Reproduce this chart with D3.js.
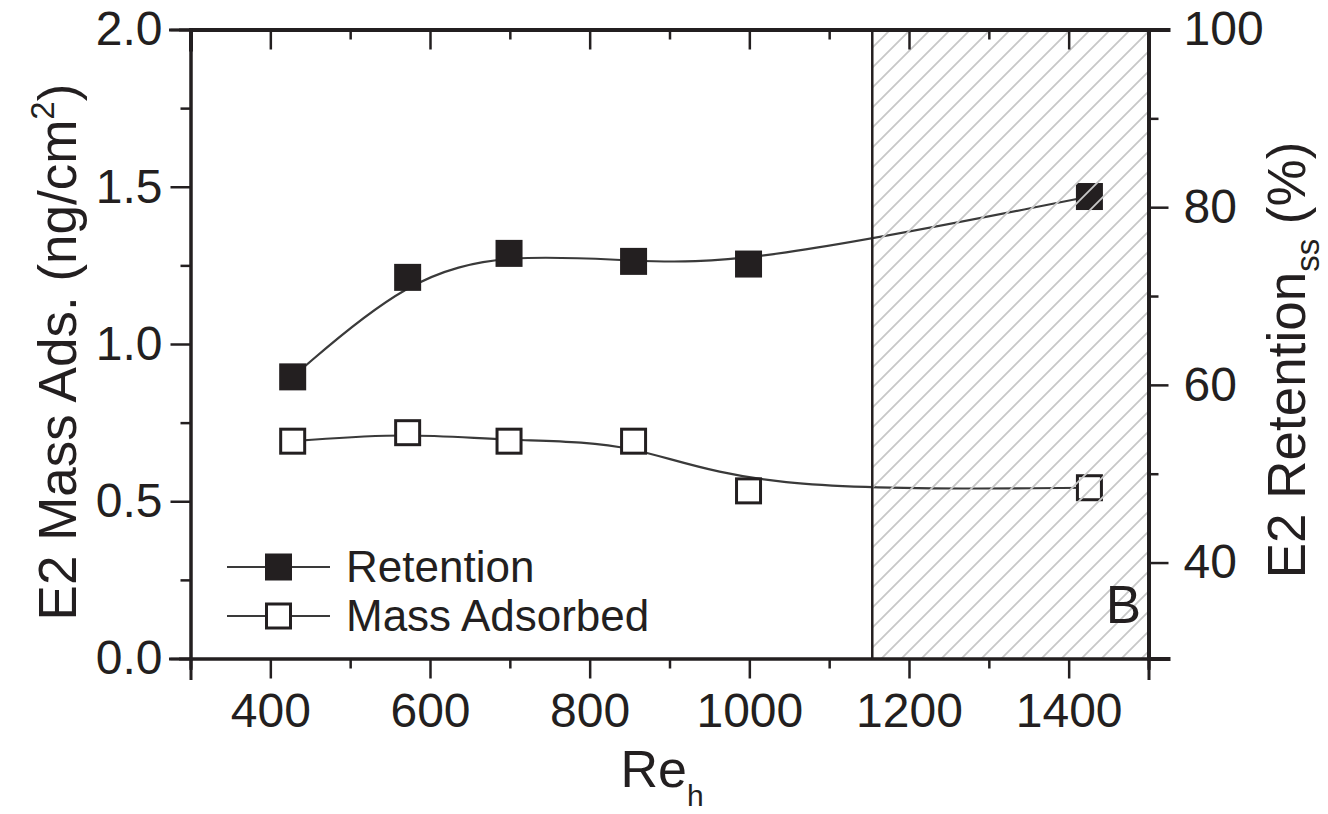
<!DOCTYPE html>
<html><head><meta charset="utf-8">
<script src="https://cdn.jsdelivr.net/npm/d3@7/dist/d3.min.js"></script>
<style>
html,body{margin:0;padding:0;background:#fff;}
svg{display:block;font-family:"Liberation Sans",Arial,Helvetica,sans-serif;}
.axis path,.axis line{stroke:#231f20;}
.axis text{fill:#231f20;font-size:48px;font-family:"Liberation Sans",Arial,sans-serif;}
</style></head>
<body>
<svg id="chart" width="1328" height="814"></svg>
<script>
// Data
const reh = [428, 572, 699, 855, 999, 1426];
const retention = [60.9, 72.1, 74.8, 73.9, 73.6, 81.2];      // right axis, %
const massAdsorbed = [0.691, 0.718, 0.691, 0.691, 0.533, 0.543]; // left axis, ng/cm2
const xMajorTicks = [400, 600, 800, 1000, 1200, 1400];
const xMinorTicks = [300, 500, 700, 900, 1100, 1300, 1500];
const yLeftMajor = [0, 0.5, 1.0, 1.5, 2.0];
const yLeftMinor = [0.25, 0.75, 1.25, 1.75];
const yRightMajor = [40, 60, 80, 100];
const yRightMinor = [50, 70, 90];
const hatchStart = 1154;
const legendLabels = ["Retention", "Mass Adsorbed"];

const svg = d3.select("#chart");
const L = 190.5, R = 1148.5, T = 29.5, B = 658.5;
const x = d3.scaleLinear().domain([300, 1500]).range([L, R]);
const yL = d3.scaleLinear().domain([0, 2]).range([B, T]);
const yR = d3.scaleLinear().domain([29.2, 100]).range([B, T]);
const ink = "#231f20";

// Curves
const lineR = d3.line().x((d,i)=>x(reh[i])).y(d=>yR(d)).curve(d3.curveBasis);
const lineM = d3.line().x((d,i)=>x(reh[i])).y(d=>yL(d)).curve(d3.curveBasis);
svg.append("path").attr("d", lineR(retention)).attr("fill","none").attr("stroke","#3a3a3a").attr("stroke-width",2.2);
svg.append("path").attr("d", lineM(massAdsorbed)).attr("fill","none").attr("stroke","#3a3a3a").attr("stroke-width",2.2);

const S = 27;
svg.selectAll(".mR").data(retention).enter().append("rect")
  .attr("x",(d,i)=>x(reh[i])-S/2).attr("y",d=>yR(d)-S/2)
  .attr("width",S).attr("height",S).attr("fill",ink);
svg.selectAll(".mM").data(massAdsorbed).enter().append("rect")
  .attr("x",(d,i)=>x(reh[i])-S/2+1.5).attr("y",d=>yL(d)-S/2+1.5)
  .attr("width",S-3).attr("height",S-3).attr("fill","#fff").attr("stroke",ink).attr("stroke-width",3);

// Hatch region
const defs = svg.append("defs");
const P = 20;
const pat = defs.append("pattern").attr("id","hatch").attr("patternUnits","userSpaceOnUse")
  .attr("width",P).attr("height",P);
pat.append("path").attr("d",`M-2,2 L2,-2 M0,${P} L${P},0 M${P-2},${P+2} L${P+2},${P-2}`)
  .attr("stroke","#c8c8c8").attr("stroke-width",1.8);
svg.append("rect").attr("x",x(hatchStart)).attr("y",T).attr("width",R-x(hatchStart)).attr("height",B-T)
  .attr("fill","url(#hatch)");
svg.append("line").attr("x1",x(hatchStart)).attr("x2",x(hatchStart)).attr("y1",T).attr("y2",B)
  .attr("stroke",ink).attr("stroke-width",2.5);

// Axes
function style(g, w){ g.select(".domain").attr("stroke-width", w); g.selectAll(".tick line").attr("stroke-width", 2.5); }
const gx = svg.append("g").attr("class","axis").attr("transform",`translate(0,${B})`)
  .call(d3.axisBottom(x).tickValues(xMajorTicks).tickSize(20).tickPadding(14).tickFormat(d3.format("d")));
style(gx,3);
const gx2 = svg.append("g").attr("class","axis").attr("transform",`translate(0,${B})`)
  .call(d3.axisBottom(x).tickValues(xMinorTicks).tickSize(10).tickFormat(""));
style(gx2,3);
const gt = svg.append("g").attr("class","axis").attr("transform",`translate(0,${T})`)
  .call(d3.axisTop(x).tickValues(xMajorTicks).tickSize(-20).tickFormat(""));
style(gt,4);
const gt2 = svg.append("g").attr("class","axis").attr("transform",`translate(0,${T})`)
  .call(d3.axisTop(x).tickValues(xMinorTicks).tickSize(-10).tickFormat(""));
style(gt2,4);
const gl = svg.append("g").attr("class","axis").attr("transform",`translate(${L},0)`)
  .call(d3.axisLeft(yL).tickValues(yLeftMajor).tickSize(20).tickPadding(8).tickFormat(d3.format(".1f")));
style(gl,3);
const gl2 = svg.append("g").attr("class","axis").attr("transform",`translate(${L},0)`)
  .call(d3.axisLeft(yL).tickValues(yLeftMinor).tickSize(10).tickFormat(""));
style(gl2,3);
const gr = svg.append("g").attr("class","axis").attr("transform",`translate(${R},0)`)
  .call(d3.axisRight(yR).tickValues(yRightMajor).tickSize(20).tickPadding(15).tickFormat(d3.format("d")));
style(gr,4);
const gr2 = svg.append("g").attr("class","axis").attr("transform",`translate(${R},0)`)
  .call(d3.axisRight(yR).tickValues(yRightMinor).tickSize(10).tickFormat(""));
style(gr2,4);
svg.selectAll(".axis .domain").attr("stroke-linecap","square");
svg.selectAll(".axis text").attr("font-size",48);

// Axis titles
const lt = svg.append("text").attr("transform","translate(76,352) rotate(-90)")
  .attr("text-anchor","middle").attr("font-size",53).attr("fill",ink);
lt.append("tspan").text("E2 Mass Ads. (ng/cm");
lt.append("tspan").attr("font-size",33).attr("dy",-22).text("2");
lt.append("tspan").attr("dy",22).text(")");

const rt = svg.append("text").attr("transform","translate(1305,360) rotate(-90)")
  .attr("text-anchor","middle").attr("font-size",53).attr("fill",ink);
rt.append("tspan").text("E2 Retention");
rt.append("tspan").attr("font-size",33).attr("dy",14).text("ss");
rt.append("tspan").attr("dy",-14).text("\u00a0(%)");

const xt = svg.append("text").attr("x",662).attr("y",787).attr("text-anchor","middle")
  .attr("font-size",52).attr("fill",ink);
xt.append("tspan").text("Re");
xt.append("tspan").attr("font-size",30).attr("dy",19).text("h");

// Panel label
svg.append("text").attr("x",1141).attr("y",623).attr("text-anchor","end")
  .attr("font-size",53).attr("fill",ink).text("B");

// Legend
const leg = [{y:567}, {y:616}];
leg.forEach((l,i)=>{
  svg.append("line").attr("x1",227).attr("x2",330).attr("y1",l.y).attr("y2",l.y).attr("stroke","#3a3a3a").attr("stroke-width",2.2);
  if(i===0) svg.append("rect").attr("x",265).attr("y",l.y-13.5).attr("width",27).attr("height",27).attr("fill",ink);
  else svg.append("rect").attr("x",266.5).attr("y",l.y-12).attr("width",24).attr("height",24).attr("fill","#fff").attr("stroke",ink).attr("stroke-width",3);
  svg.append("text").attr("x",346).attr("y",l.y).attr("dy","0.35em").attr("font-size",44).attr("fill",ink).text(legendLabels[i]);
});
</script>
</body></html>
